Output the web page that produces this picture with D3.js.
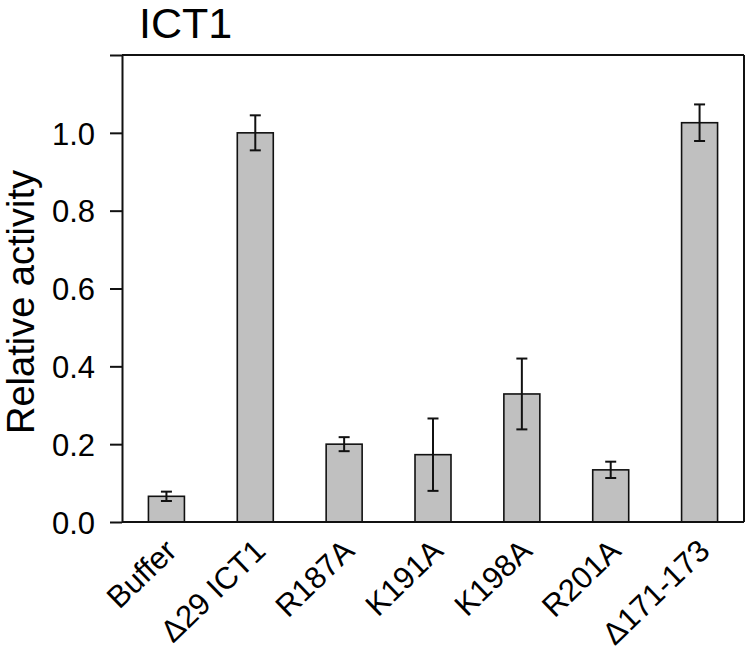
<!DOCTYPE html>
<html>
<head>
<meta charset="utf-8">
<script src="https://cdn.jsdelivr.net/npm/d3@7"></script>
<style>
  body { margin: 0; background: #fff; }
  text { font-family: "Liberation Sans", Arial, sans-serif; fill: #000; }
</style>
</head>
<body>
<div id="chart"></div>
<script>
'use strict'

// data
const groups = ['Buffer', 'Δ29 ICT1', 'R187A', 'K191A', 'K198A', 'R201A', 'Δ171-173']
const activity = [0.066, 1.0, 0.200, 0.173, 0.329, 0.134, 1.026]
const errors = [0.012, 0.045, 0.018, 0.093, 0.091, 0.021, 0.047]
const yTicks = [0, 0.2, 0.4, 0.6, 0.8, 1.0, 1.2]
const yLabelled = [0, 0.2, 0.4, 0.6, 0.8, 1.0]

const data = groups.map((g, i) => ({ group: g, value: activity[i], err: errors[i] }))

const svgWidth = 750
const svgHeight = 653

const margin = { left: 122, right: 6, top: 55, bottom: 131 }
const width = svgWidth - margin.left - margin.right
const height = svgHeight - margin.top - margin.bottom

const svg = d3.select('#chart')
    .append('svg')
    .attr('width', svgWidth)
    .attr('height', svgHeight)

const g = svg.append('g')
    .attr('transform', `translate(${margin.left},${margin.top})`)

// scales
const xScale = d3.scaleBand()
    .domain(groups)
    .range([0, width])
    .paddingInner(0.595)
    .paddingOuter(0.2975)

const yScale = d3.scaleLinear()
    .domain([0, 1.2])
    .range([height, 0])

// bars
g.selectAll('.bar')
    .data(data)
    .join('rect')
    .attr('class', 'bar')
    .attr('x', d => xScale(d.group))
    .attr('y', d => yScale(d.value))
    .attr('width', xScale.bandwidth())
    .attr('height', d => height - yScale(d.value))
    .attr('fill', '#c0c0c0')
    .attr('stroke', '#111')
    .attr('stroke-width', 1.6)

// error bars
const cap = 5.5
const eb = g.selectAll('.err')
    .data(data)
    .join('g')
    .attr('class', 'err')
    .attr('stroke', '#111')
    .attr('stroke-width', 2)

eb.append('line')
    .attr('x1', d => xScale(d.group) + xScale.bandwidth() / 2)
    .attr('x2', d => xScale(d.group) + xScale.bandwidth() / 2)
    .attr('y1', d => yScale(d.value + d.err))
    .attr('y2', d => yScale(d.value - d.err))
eb.append('line')
    .attr('x1', d => xScale(d.group) + xScale.bandwidth() / 2 - cap)
    .attr('x2', d => xScale(d.group) + xScale.bandwidth() / 2 + cap)
    .attr('y1', d => yScale(d.value + d.err))
    .attr('y2', d => yScale(d.value + d.err))
eb.append('line')
    .attr('x1', d => xScale(d.group) + xScale.bandwidth() / 2 - cap)
    .attr('x2', d => xScale(d.group) + xScale.bandwidth() / 2 + cap)
    .attr('y1', d => yScale(d.value - d.err))
    .attr('y2', d => yScale(d.value - d.err))

// y axis
const yAxis = d3.axisLeft(yScale)
    .tickValues(yTicks)
    .tickSize(12)
    .tickSizeOuter(0)
    .tickPadding(15)
    .tickFormat(d => yLabelled.includes(d) ? d3.format('.1f')(d) : '')

const yG = g.append('g').call(yAxis)
yG.select('.domain').attr('stroke', '#111').attr('stroke-width', 2)
yG.selectAll('.tick line').attr('stroke', '#111').attr('stroke-width', 2)
yG.selectAll('.tick text')
    .style('font-family', '"Liberation Sans", Arial, sans-serif')
    .style('font-size', '31px')
    .attr('fill', '#000')
    .attr('dy', '0.36em')

// frame: top, right, bottom
g.append('line')
    .attr('x1', 0).attr('x2', width)
    .attr('y1', 0).attr('y2', 0)
    .attr('stroke', '#111').attr('stroke-width', 2)
g.append('line')
    .attr('x1', width).attr('x2', width)
    .attr('y1', 0).attr('y2', height)
    .attr('stroke', '#111').attr('stroke-width', 2)
g.append('line')
    .attr('x1', 0).attr('x2', width)
    .attr('y1', height).attr('y2', height)
    .attr('stroke', '#111').attr('stroke-width', 2)

// x labels, rotated
g.selectAll('.xlab')
    .data(groups)
    .join('text')
    .attr('class', 'xlab')
    .attr('text-anchor', 'end')
    .style('font-size', '31px')
    .attr('transform', d => `translate(${xScale(d) + xScale.bandwidth() / 2 + 12},${height + 31}) rotate(-44)`)
    .text(d => d)

// y title
svg.append('text')
    .attr('transform', `translate(34,302) rotate(-90)`)
    .attr('text-anchor', 'middle')
    .style('font-size', '38px')
    .text('Relative activity')

// title
svg.append('text')
    .attr('x', 139)
    .attr('y', 38)
    .style('font-size', '43px')
    .text('ICT1')
</script>
</body>
</html>
